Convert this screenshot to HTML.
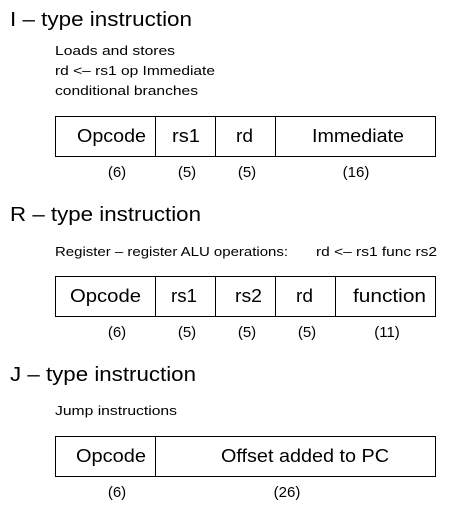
<!DOCTYPE html>
<html><head><style>body{margin:0;background:#fff}svg{display:block}text{font-family:"Liberation Sans",sans-serif;fill:#000}</style></head><body>
<svg width="467" height="507" xmlns="http://www.w3.org/2000/svg">
<g font-size="20" lengthAdjust="spacingAndGlyphs">
<text x="10" y="26" textLength="182" lengthAdjust="spacingAndGlyphs">I – type instruction</text>
<text x="10" y="221" textLength="191" lengthAdjust="spacingAndGlyphs">R – type instruction</text>
<text x="10" y="381" textLength="186" lengthAdjust="spacingAndGlyphs">J – type instruction</text>
</g>
<g font-size="13">
<text x="55" y="55" textLength="120" lengthAdjust="spacingAndGlyphs">Loads and stores</text>
<text x="55" y="75" textLength="160" lengthAdjust="spacingAndGlyphs">rd &lt;– rs1 op Immediate</text>
<text x="55" y="95" textLength="143" lengthAdjust="spacingAndGlyphs">conditional branches</text>
<text x="55" y="256" textLength="233" lengthAdjust="spacingAndGlyphs">Register – register ALU operations:</text>
<text x="316" y="256" textLength="121" lengthAdjust="spacingAndGlyphs">rd &lt;– rs1 func rs2</text>
<text x="55" y="415" textLength="122" lengthAdjust="spacingAndGlyphs">Jump instructions</text>
</g>
<g fill="none" stroke="#000" stroke-width="1">
<rect x="55.5" y="116.5" width="380" height="40"/>
<path d="M155.5 116v40M215.5 116v40M275.5 116v40"/>
<rect x="55.5" y="276.5" width="380" height="40"/>
<path d="M155.5 276v40M215.5 276v40M275.5 276v40M335.5 276v40"/>
<rect x="55.5" y="436.5" width="380" height="40"/>
<path d="M155.5 436v40"/>
</g>
<g font-size="18">
<text x="77" y="142" textLength="69" lengthAdjust="spacingAndGlyphs">Opcode</text><text x="172" y="142" textLength="28" lengthAdjust="spacingAndGlyphs">rs1</text><text x="236" y="142" textLength="17" lengthAdjust="spacingAndGlyphs">rd</text><text x="312" y="142" textLength="92" lengthAdjust="spacingAndGlyphs">Immediate</text>
<text x="70" y="302" textLength="71" lengthAdjust="spacingAndGlyphs">Opcode</text><text x="171" y="302" textLength="26" lengthAdjust="spacingAndGlyphs">rs1</text><text x="235" y="302" textLength="27" lengthAdjust="spacingAndGlyphs">rs2</text><text x="296" y="302" textLength="17" lengthAdjust="spacingAndGlyphs">rd</text><text x="353" y="302" textLength="73" lengthAdjust="spacingAndGlyphs">function</text>
<text x="76" y="462" textLength="70" lengthAdjust="spacingAndGlyphs">Opcode</text><text x="221" y="462" textLength="168" lengthAdjust="spacingAndGlyphs">Offset added to PC</text>
</g>
<g font-size="15" text-anchor="middle">
<text x="117" y="177">(6)</text><text x="187" y="177">(5)</text><text x="247" y="177">(5)</text><text x="356" y="177">(16)</text>
<text x="117" y="337">(6)</text><text x="187" y="337">(5)</text><text x="247" y="337">(5)</text><text x="307" y="337">(5)</text><text x="387" y="337">(11)</text>
<text x="117" y="497">(6)</text><text x="287" y="497">(26)</text>
</g>
</svg>
</body></html>
